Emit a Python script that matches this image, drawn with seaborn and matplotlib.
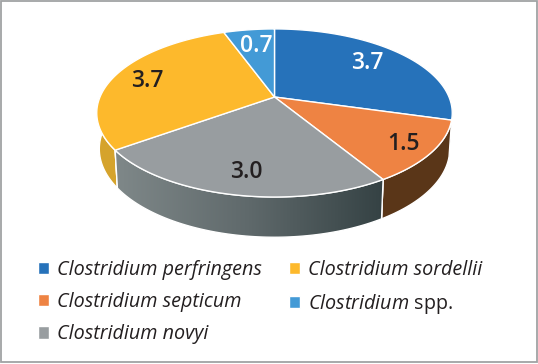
import numpy as np
import matplotlib.pyplot as plt
from matplotlib.patches import Polygon, Rectangle
import seaborn as sns

sns.set_theme(style='white')
plt.rcParams['font.family'] = ['Open Sans', 'DejaVu Sans']
plt.rcParams['mathtext.fontset'] = 'custom'
plt.rcParams['mathtext.it'] = 'Open Sans:italic'
plt.rcParams['mathtext.rm'] = 'Open Sans'

names = ['Clostridium perfringens', 'Clostridium septicum', 'Clostridium novyi',
         'Clostridium sordellii', r'$\mathit{Clostridium}$ spp.']
values = [3.7, 1.5, 3.0, 3.7, 0.7]
value_labels = ['3.7', '1.5', '3.0', '3.7', '0.7']
colors = ['#2672ba', '#ee8343', '#989da0', '#fdb92c', '#439ad6']
side_colors = ['#1d4f80', '#5a3618', '#5f6a6c', '#d5a32c', '#2f6f9e']
label_colors = ['white', '#231f20', '#231f20', '#231f20', 'white']
label_pos = [(367, 63), (403, 144), (246, 172), (147, 81), (256, 46)]
legend_order = [0, 1, 2, 3, 4]


# circle angle (clockwise from top) to picture position, with a bit of perspective
def top_face(theta):
    d = 1 + 0.19 * np.cos(theta)
    return 274.5 + 174.5 * np.sin(theta) / d, 97 - 81 * np.cos(theta) / d


def bottom_face(theta):
    d = 1 + 0.19 * np.cos(theta)
    return 274.5 + 172 * np.sin(theta) / d, 132.3 - 85 * np.cos(theta) / d


fig = plt.figure(figsize=(5.38, 3.64), dpi=100)
ax = fig.add_axes([0, 0, 1, 1])
ax.set_xlim(0, 538)
ax.set_ylim(364, 0)
ax.axis('off')

ax.add_patch(Rectangle((1, 1), 535.5, 361, fc='white', ec='#a0a2a4', lw=1.3))

edges = np.deg2rad(np.cumsum([0] + values) / sum(values) * 360)

# sides first, only the front half of the disc shows
for i in [0, 1, 3, 2]:
    a, b = max(edges[i], np.pi / 2), min(edges[i + 1], np.pi * 1.5)
    if a >= b:
        continue
    t = np.linspace(a, b, 80)
    xt, yt = top_face(t)
    xb, yb = bottom_face(t)
    pts = np.r_[np.c_[xt, yt], np.c_[xb, yb][::-1]]
    side = Polygon(pts, closed=True, fc=side_colors[i], ec='white', lw=1.0)
    ax.add_patch(side)
    if i == 2:
        shade = sns.blend_palette(['#7f8889', '#5f696b', '#354244'], as_cmap=True)
        im = ax.imshow(np.linspace(0, 1, 256).reshape(1, -1), cmap=shade, aspect='auto',
                       extent=[pts[:, 0].min(), pts[:, 0].max(), 240, 140], zorder=2)
        im.set_clip_path(side)
        ax.add_patch(Polygon(pts, closed=True, fc='none', ec='white', lw=1.0, zorder=3))
ax.set_xlim(0, 538)
ax.set_ylim(364, 0)

# top of the pie
for i in range(len(values)):
    t = np.linspace(edges[i], edges[i + 1], 120)
    xt, yt = top_face(t)
    ax.fill(np.r_[274.5, xt], np.r_[97, yt], fc=colors[i], ec='white', lw=1.0, zorder=4)

for i, (x, y) in enumerate(label_pos):
    ax.text(x, y, value_labels[i], color=label_colors[i], fontsize=16.5, fontweight='semibold',
            ha='center', va='center', zorder=5)

handles = [Rectangle((0, 0), 1, 1, fc=colors[i]) for i in legend_order]
leg = ax.legend(handles, [names[i] for i in legend_order], ncols=2, loc='upper left',
                bbox_to_anchor=(38 / 538, 1 - 260 / 364), frameon=False,
                fontsize=14.2, handlelength=0.58, handleheight=0.58, handletextpad=0.36,
                columnspacing=1.4, labelspacing=0.62, borderpad=0, borderaxespad=0,
                labelcolor='#231f20')
for txt in leg.get_texts()[:4]:
    txt.set_fontstyle('italic')

fig.savefig('out.png', dpi=100)
